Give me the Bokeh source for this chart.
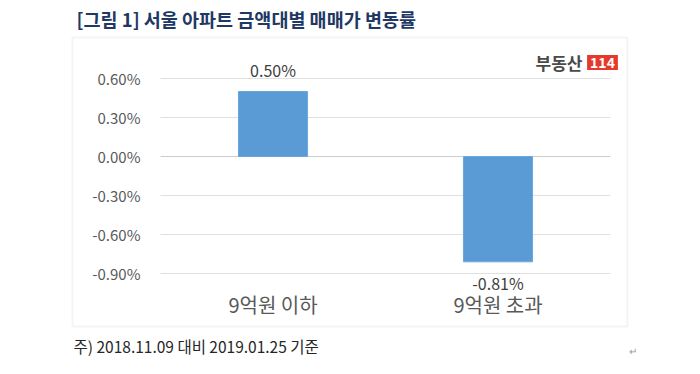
from bokeh.plotting import figure
from bokeh.models import (ColumnDataSource, Range1d, FixedTicker,
                          PrintfTickFormatter, LabelSet, Label, BoxAnnotation)
from bokeh.core.properties import value
from bokeh.embed import file_html
from bokeh.resources import INLINE

# ---- data ----
categories = ["9억원 이하", "9억원 초과"]
values = [0.50, -0.81]
value_labels = ["0.50%", "-0.81%"]
y_ticks = [-0.90, -0.60, -0.30, 0.00, 0.30, 0.60]

title_text = "[그림 1] 서울 아파트 금액대별 매매가 변동률"
note_text = "주) 2018.11.09 대비 2019.01.25 기준"

FONT = "Noto Sans CJK KR"

W, H = 684, 358
# layout: chart area spans x 160..610 px, 130 px per 1 % point, 0.60 % at y = 78 px
PX_PER_CAT = 225.0
PX_PER_PCT = 130.0
x_start = -0.5 - 160 / PX_PER_CAT
x_end = x_start + W / PX_PER_CAT
y_end = 0.60 + 78 / PX_PER_PCT
y_start = y_end - H / PX_PER_PCT

pos = list(range(len(categories)))
src = ColumnDataSource(dict(
    x=pos,
    val=values,
    lab=value_labels,
    off=[22 if v >= 0 else -21 for v in values],
))
grid_src = ColumnDataSource(dict(
    y=y_ticks,
    x0=[-0.5] * len(y_ticks),
    x1=[len(categories) - 0.5] * len(y_ticks),
    c=["#cccccc" if t == 0 else "#e0e0e0" for t in y_ticks],
))

p = figure(width=W, height=H, x_range=Range1d(x_start, x_end),
           y_range=Range1d(y_start, y_end), output_backend="svg", toolbar_location=None,
           min_border=0)
p.outline_line_color = None
p.background_fill_color = "white"
p.border_fill_color = "white"
p.xgrid.visible = False
p.ygrid.visible = False

# gridlines limited to the category span
p.segment(x0="x0", x1="x1", y0="y", y1="y", source=grid_src, line_color="c", line_width=1)

p.vbar(x="x", top="val", bottom=0, width=0.307, source=src,
       fill_color="#5b9bd5", line_color="#6aa7dd", line_width=1)

p.add_layout(LabelSet(x="x", y="val", text="lab", y_offset="off", source=src,
                      text_align="center", text_baseline="middle",
                      text_font=value(FONT), text_font_size="16px", text_color="#404040"))

# axes placed inside the frame
p.yaxis.ticker = FixedTicker(ticks=y_ticks)
p.yaxis.formatter = PrintfTickFormatter(format="%.2f%%")
p.yaxis.fixed_location = -0.5
p.xaxis.ticker = FixedTicker(ticks=pos)
p.xaxis.major_label_overrides = {i: c for i, c in zip(pos, categories)}
p.xaxis.fixed_location = 0.60 - (288 - 78) / PX_PER_PCT
for ax in (p.xaxis[0], p.yaxis[0]):
    ax.axis_line_color = None
    ax.major_tick_line_color = None
    ax.minor_tick_line_color = None
    ax.major_tick_in = 0
    ax.major_tick_out = 0
    ax.major_label_text_font = FONT
    ax.major_label_text_color = "#595959"
p.yaxis.major_label_text_font_size = "15px"
p.yaxis.major_label_standoff = 20
p.xaxis.major_label_text_font_size = "20px"
p.xaxis.major_label_standoff = 1

# outer box
p.add_layout(BoxAnnotation(left=72, right=627, top=37, bottom=326,
                           left_units="canvas", right_units="canvas",
                           top_units="canvas", bottom_units="canvas",
                           fill_color=None, line_color="#d9d9d9", line_width=2))

# title
p.add_layout(Label(x=76, y=18, x_units="canvas", y_units="canvas", text=title_text,
                   text_font=FONT, text_font_size="18.5px", text_font_style="bold",
                   text_color="#1f3864", text_baseline="middle", text_align="left"))

# logo
p.add_layout(Label(x=582, y=62, x_units="canvas", y_units="canvas", text="부동산",
                   text_font=FONT, text_font_size="17px", text_font_style="bold",
                   text_color="#4a4a4a", text_baseline="middle", text_align="right"))
p.add_layout(Label(x=602, y=62, x_units="canvas", y_units="canvas", text="114",
                   text_font=FONT, text_font_size="14px", text_font_style="bold",
                   text_color="white", text_baseline="middle", text_align="center",
                   background_fill_color="#e5392b", padding=(3, 2)))

# footnote
p.add_layout(Label(x=73, y=345, x_units="canvas", y_units="canvas", text=note_text,
                   text_font=FONT, text_font_size="15.5px",
                   text_color="#262626", text_baseline="middle", text_align="left"))
p.add_layout(Label(x=632, y=350, x_units="canvas", y_units="canvas", text="↵",
                   text_font=FONT, text_font_size="10px",
                   text_color="#999999", text_baseline="middle", text_align="center"))

open("out.html", "w").write(file_html(p, INLINE))
